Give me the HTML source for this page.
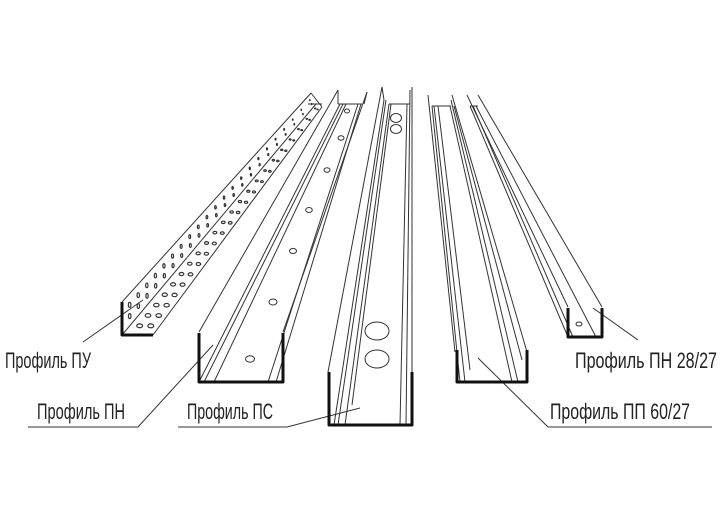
<!DOCTYPE html>
<html><head><meta charset="utf-8"><style>
html,body{margin:0;padding:0;background:#fff;}
svg{display:block}
text{font-family:"Liberation Sans Narrow","Liberation Sans",sans-serif;font-size:22px;fill:#222;}
</style></head><body>
<svg id="s" width="720" height="516" viewBox="0 0 720 516" xmlns="http://www.w3.org/2000/svg">
<g stroke="#333" stroke-width="1" fill="none">
<!-- ПУ -->
<line x1="122" y1="302" x2="311" y2="93"/>
<line x1="122" y1="335" x2="316" y2="104"/>
<line x1="153" y1="335" x2="322" y2="107"/>
<line x1="311" y1="93" x2="322" y2="107"/>
<line x1="308" y1="104" x2="322" y2="104"/>
<!-- ПН -->
<line x1="199" y1="332" x2="338" y2="90"/>
<line x1="199" y1="382" x2="340" y2="104"/>
<line x1="204" y1="382" x2="343" y2="104"/>
<line x1="214" y1="382" x2="346" y2="104"/>
<line x1="268" y1="382" x2="358" y2="104"/>
<line x1="276" y1="382" x2="361" y2="104"/>
<line x1="283" y1="332" x2="367" y2="92"/>
<line x1="338" y1="90" x2="338" y2="104"/>
<line x1="338" y1="104" x2="362" y2="104"/>
<line x1="367" y1="92" x2="364" y2="104"/>
<!-- ПС -->
<line x1="328" y1="372" x2="382" y2="87"/>
<line x1="334" y1="425" x2="384" y2="100"/>
<line x1="338" y1="425" x2="386" y2="100"/>
<line x1="345" y1="425" x2="389" y2="104"/>
<line x1="352" y1="405" x2="391" y2="104"/>
<line x1="400" y1="425" x2="407" y2="104"/>
<line x1="406" y1="425" x2="410" y2="90"/>
<line x1="412" y1="372" x2="412" y2="87"/>
<line x1="382" y1="87" x2="384" y2="100"/>
<line x1="389" y1="104" x2="410" y2="104"/>
<!-- ПП -->
<line x1="455" y1="352" x2="428" y2="95"/>
<line x1="460" y1="382" x2="432" y2="106"/>
<line x1="465" y1="382" x2="434" y2="106"/>
<line x1="470" y1="370" x2="438" y2="106"/>
<line x1="512" y1="382" x2="450" y2="106"/>
<line x1="518" y1="382" x2="451" y2="100"/>
<line x1="527" y1="352" x2="452" y2="95"/>
<line x1="522" y1="360" x2="454" y2="106"/>
<line x1="432" y1="106" x2="451" y2="106"/>
<!-- ПН 28/27 -->
<line x1="568" y1="307" x2="467" y2="95"/>
<line x1="568" y1="337" x2="470" y2="106"/>
<line x1="573" y1="337" x2="473" y2="106"/>
<line x1="596" y1="337" x2="476" y2="106"/>
<line x1="602" y1="307" x2="478" y2="95"/>
<line x1="470" y1="106" x2="478" y2="106"/>
<!-- holes -->
<ellipse cx="347" cy="111" rx="2.5" ry="2"/><ellipse cx="341" cy="138" rx="3" ry="2.2"/>
<ellipse cx="327" cy="170" rx="3" ry="2.3"/><ellipse cx="309" cy="210" rx="3.3" ry="2.5"/>
<ellipse cx="293" cy="251" rx="3.5" ry="2.6"/><ellipse cx="273" cy="302" rx="4" ry="3"/>
<ellipse cx="250" cy="359" rx="4.5" ry="3.2"/>
<ellipse cx="377" cy="331" rx="12" ry="9"/><ellipse cx="377" cy="359" rx="12" ry="9"/>
<ellipse cx="396" cy="118" rx="5.5" ry="4.5"/><ellipse cx="396" cy="129" rx="5.5" ry="4.5"/>
<ellipse cx="579" cy="324" rx="3" ry="2"/>
<!-- leaders -->
<line x1="83" y1="342" x2="143" y2="300"/>
<polyline points="28,427 138,427 213,345"/>
<polyline points="178,427 287,427 360,408"/>
<line x1="638" y1="340" x2="593" y2="308"/>
<polyline points="712,427 548,427 478,358"/>
</g>
<g stroke="#111" stroke-width="3" fill="none" stroke-linejoin="round">
<polyline points="122,302 122,335 153,335"/>
<polyline points="199,333 199,382 283,382 283,333"/>
<polyline points="329,372 329,425 412,425 412,372"/>
<polyline points="457,350 457,382 527,382 527,350"/>
<polyline points="568,308 568,337 602,337 602,308"/>
</g>
<g id="dots" stroke="#333" stroke-width="1.2" fill="none"></g>
<text x="5" y="368" textLength="86" lengthAdjust="spacingAndGlyphs">Профиль ПУ</text>
<text x="37" y="419" textLength="88" lengthAdjust="spacingAndGlyphs">Профиль ПН</text>
<text x="187" y="419" textLength="86" lengthAdjust="spacingAndGlyphs">Профиль ПС</text>
<text x="575" y="368" textLength="142" lengthAdjust="spacingAndGlyphs">Профиль ПН 28/27</text>
<text x="550" y="419" textLength="140" lengthAdjust="spacingAndGlyphs">Профиль ПП 60/27</text>
</svg>
<script>
var g=document.getElementById('dots'),ns='http://www.w3.org/2000/svg';
function L(a,b,t){return [a[0]+(b[0]-a[0])*t,a[1]+(b[1]-a[1])*t];}
var A=[[122,302],[311,93]],B=[[122,335],[316,104]],C=[[153,335],[322,107]];
for(var i=0;i<22;i++){var t=0.04+i*0.045;var s=1-t*0.8;
 var pa=L(A[0],A[1],t),pb=L(B[0],B[1],t),pc=L(C[0],C[1],t);
 [[0.35,pa,pb,1],[0.7,pa,pb,1],[0.33,pb,pc,0],[0.7,pb,pc,0]].forEach(function(d){
  var x=d[1][0]+(d[2][0]-d[1][0])*d[0],y=d[1][1]+(d[2][1]-d[1][1])*d[0];
  var e=document.createElementNS(ns,'ellipse');e.setAttribute('cx',x);e.setAttribute('cy',y);
  if(d[3]){e.setAttribute('rx',1.3*s);e.setAttribute('ry',2.6*s);}else{e.setAttribute('rx',3*s);e.setAttribute('ry',2*s);}
  g.appendChild(e);});}
</script>
</body></html>
